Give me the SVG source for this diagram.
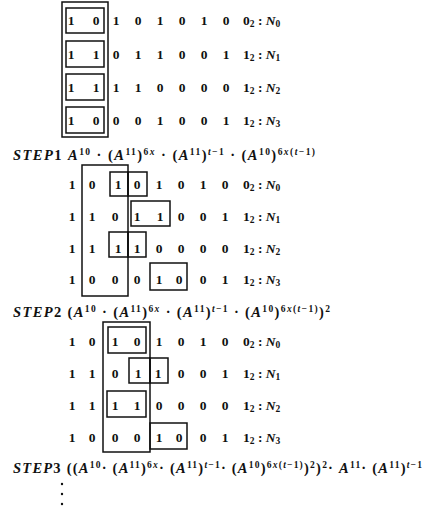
<svg xmlns="http://www.w3.org/2000/svg" width="429" height="517" viewBox="0 0 429 517">
<style>
text{font-family:"Liberation Serif","Times New Roman",serif;font-weight:bold;fill:#111;}
.d{font-size:13.5px;text-anchor:middle;}
.lb{font-size:13.5px;}
.f{font-size:14.5px;}
.i{font-style:italic;}
.s{font-size:9.5px;}
.b{fill:none;stroke:#111;stroke-width:1.5;}
</style>
<rect width="429" height="517" fill="#fff"/>

<g id="block0">
<rect class="b" x="62" y="2" width="46" height="135"/>
<rect class="b" x="66" y="8" width="38" height="25"/>
<rect class="b" x="66" y="41" width="38" height="26"/>
<rect class="b" x="66" y="74" width="38" height="26"/>
<rect class="b" x="66" y="107" width="38" height="26"/>
<g id="b0r0"><text class="d" y="24.5"><tspan x="71">1</tspan><tspan x="96">0</tspan><tspan x="116">1</tspan><tspan x="138">0</tspan><tspan x="160">1</tspan><tspan x="182">0</tspan><tspan x="204">1</tspan><tspan x="226">0</tspan></text><text class="lb" x="243" y="24.5">0<tspan class="s" dy="2">2</tspan><tspan dy="-2"> : </tspan><tspan class="i">N</tspan><tspan class="s" dy="2">0</tspan></text></g>
<g id="b0r1"><text class="d" y="58.5"><tspan x="71">1</tspan><tspan x="96">1</tspan><tspan x="116">0</tspan><tspan x="138">1</tspan><tspan x="160">1</tspan><tspan x="182">0</tspan><tspan x="204">0</tspan><tspan x="226">1</tspan></text><text class="lb" x="243" y="58.5">1<tspan class="s" dy="2">2</tspan><tspan dy="-2"> : </tspan><tspan class="i">N</tspan><tspan class="s" dy="2">1</tspan></text></g>
<g id="b0r2"><text class="d" y="91.5"><tspan x="71">1</tspan><tspan x="96">1</tspan><tspan x="116">1</tspan><tspan x="138">1</tspan><tspan x="160">0</tspan><tspan x="182">0</tspan><tspan x="204">0</tspan><tspan x="226">0</tspan></text><text class="lb" x="243" y="91.5">1<tspan class="s" dy="2">2</tspan><tspan dy="-2"> : </tspan><tspan class="i">N</tspan><tspan class="s" dy="2">2</tspan></text></g>
<g id="b0r3"><text class="d" y="124.5"><tspan x="71">1</tspan><tspan x="96">0</tspan><tspan x="116">0</tspan><tspan x="138">0</tspan><tspan x="160">1</tspan><tspan x="182">0</tspan><tspan x="204">0</tspan><tspan x="226">1</tspan></text><text class="lb" x="243" y="124.5">1<tspan class="s" dy="2">2</tspan><tspan dy="-2"> : </tspan><tspan class="i">N</tspan><tspan class="s" dy="2">3</tspan></text></g>
</g>

<g id="step1"><text class="f" x="13" y="160" textLength="302" lengthAdjust="spacing"><tspan class="i">STEP</tspan>1 <tspan class="i">A</tspan><tspan class="s" dy="-5">10</tspan><tspan dy="5"> · (</tspan><tspan class="i">A</tspan><tspan class="s" dy="-5">11</tspan><tspan dy="5">)</tspan><tspan class="s" dy="-5">6<tspan class="i">x</tspan></tspan><tspan dy="5"> · (</tspan><tspan class="i">A</tspan><tspan class="s" dy="-5">11</tspan><tspan dy="5">)</tspan><tspan class="s" dy="-5"><tspan class="i">t</tspan>−1</tspan><tspan dy="5"> · (</tspan><tspan class="i">A</tspan><tspan class="s" dy="-5">10</tspan><tspan dy="5">)</tspan><tspan class="s" dy="-5">6<tspan class="i">x</tspan>(<tspan class="i">t</tspan>−1)</tspan></text></g>

<g id="block1">
<rect class="b" x="82" y="165" width="46" height="131"/>
<rect class="b" x="110" y="172" width="18" height="24"/>
<rect class="b" x="128" y="172" width="19" height="24"/>
<rect class="b" x="131" y="201" width="39" height="25"/>
<rect class="b" x="109" y="232" width="19" height="25"/>
<rect class="b" x="128" y="232" width="18" height="25"/>
<rect class="b" x="150" y="263" width="37" height="27"/>
<g id="b1r0"><text class="d" y="188.5"><tspan x="72">1</tspan><tspan x="92">0</tspan><tspan x="118">1</tspan><tspan x="137">0</tspan><tspan x="159">1</tspan><tspan x="181">0</tspan><tspan x="203">1</tspan><tspan x="225">0</tspan></text><text class="lb" x="243" y="188.5">0<tspan class="s" dy="2">2</tspan><tspan dy="-2"> : </tspan><tspan class="i">N</tspan><tspan class="s" dy="2">0</tspan></text></g>
<g id="b1r1"><text class="d" y="220.5"><tspan x="72">1</tspan><tspan x="92">1</tspan><tspan x="115">0</tspan><tspan x="137">1</tspan><tspan x="160">1</tspan><tspan x="181">0</tspan><tspan x="203">0</tspan><tspan x="225">1</tspan></text><text class="lb" x="243" y="220.5">1<tspan class="s" dy="2">2</tspan><tspan dy="-2"> : </tspan><tspan class="i">N</tspan><tspan class="s" dy="2">1</tspan></text></g>
<g id="b1r2"><text class="d" y="252.5"><tspan x="72">1</tspan><tspan x="92">1</tspan><tspan x="118">1</tspan><tspan x="137">1</tspan><tspan x="159">0</tspan><tspan x="181">0</tspan><tspan x="203">0</tspan><tspan x="225">0</tspan></text><text class="lb" x="243" y="252.5">1<tspan class="s" dy="2">2</tspan><tspan dy="-2"> : </tspan><tspan class="i">N</tspan><tspan class="s" dy="2">2</tspan></text></g>
<g id="b1r3"><text class="d" y="283.5"><tspan x="72">1</tspan><tspan x="92">0</tspan><tspan x="115">0</tspan><tspan x="137">0</tspan><tspan x="159">1</tspan><tspan x="179">0</tspan><tspan x="203">0</tspan><tspan x="225">1</tspan></text><text class="lb" x="243" y="283.5">1<tspan class="s" dy="2">2</tspan><tspan dy="-2"> : </tspan><tspan class="i">N</tspan><tspan class="s" dy="2">3</tspan></text></g>
</g>

<g id="step2"><text class="f" x="13" y="317" textLength="317" lengthAdjust="spacing"><tspan class="i">STEP</tspan>2 (<tspan class="i">A</tspan><tspan class="s" dy="-5">10</tspan><tspan dy="5"> · (</tspan><tspan class="i">A</tspan><tspan class="s" dy="-5">11</tspan><tspan dy="5">)</tspan><tspan class="s" dy="-5">6<tspan class="i">x</tspan></tspan><tspan dy="5"> · (</tspan><tspan class="i">A</tspan><tspan class="s" dy="-5">11</tspan><tspan dy="5">)</tspan><tspan class="s" dy="-5"><tspan class="i">t</tspan>−1</tspan><tspan dy="5"> · (</tspan><tspan class="i">A</tspan><tspan class="s" dy="-5">10</tspan><tspan dy="5">)</tspan><tspan class="s" dy="-5">6<tspan class="i">x</tspan>(<tspan class="i">t</tspan>−1)</tspan><tspan dy="5">)</tspan><tspan class="s" dy="-5">2</tspan></text></g>

<g id="block2">
<rect class="b" x="103" y="322" width="47" height="130"/>
<rect class="b" x="108" y="327" width="38" height="26"/>
<rect class="b" x="129" y="358" width="21" height="25"/>
<rect class="b" x="150" y="358" width="18" height="25"/>
<rect class="b" x="107" y="391" width="39" height="26"/>
<rect class="b" x="150" y="423" width="37" height="26"/>
<g id="b2r0"><text class="d" y="345.5"><tspan x="72">1</tspan><tspan x="92">0</tspan><tspan x="115">1</tspan><tspan x="137">0</tspan><tspan x="159">1</tspan><tspan x="181">0</tspan><tspan x="203">1</tspan><tspan x="225">0</tspan></text><text class="lb" x="243" y="345.5">0<tspan class="s" dy="2">2</tspan><tspan dy="-2"> : </tspan><tspan class="i">N</tspan><tspan class="s" dy="2">0</tspan></text></g>
<g id="b2r1"><text class="d" y="377.5"><tspan x="72">1</tspan><tspan x="92">1</tspan><tspan x="115">0</tspan><tspan x="138">1</tspan><tspan x="158">1</tspan><tspan x="181">0</tspan><tspan x="203">0</tspan><tspan x="225">1</tspan></text><text class="lb" x="243" y="377.5">1<tspan class="s" dy="2">2</tspan><tspan dy="-2"> : </tspan><tspan class="i">N</tspan><tspan class="s" dy="2">1</tspan></text></g>
<g id="b2r2"><text class="d" y="409.5"><tspan x="72">1</tspan><tspan x="92">1</tspan><tspan x="115">1</tspan><tspan x="137">1</tspan><tspan x="159">0</tspan><tspan x="181">0</tspan><tspan x="203">0</tspan><tspan x="225">0</tspan></text><text class="lb" x="243" y="409.5">1<tspan class="s" dy="2">2</tspan><tspan dy="-2"> : </tspan><tspan class="i">N</tspan><tspan class="s" dy="2">2</tspan></text></g>
<g id="b2r3"><text class="d" y="441.5"><tspan x="72">1</tspan><tspan x="92">0</tspan><tspan x="115">0</tspan><tspan x="137">0</tspan><tspan x="159">1</tspan><tspan x="179">0</tspan><tspan x="203">0</tspan><tspan x="225">1</tspan></text><text class="lb" x="243" y="441.5">1<tspan class="s" dy="2">2</tspan><tspan dy="-2"> : </tspan><tspan class="i">N</tspan><tspan class="s" dy="2">3</tspan></text></g>
</g>

<g id="step3"><text class="f" x="13" y="473" textLength="409" lengthAdjust="spacing"><tspan class="i">STEP</tspan>3 ((<tspan class="i">A</tspan><tspan class="s" dy="-5">10</tspan><tspan dy="5">· (</tspan><tspan class="i">A</tspan><tspan class="s" dy="-5">11</tspan><tspan dy="5">)</tspan><tspan class="s" dy="-5">6<tspan class="i">x</tspan></tspan><tspan dy="5">· (</tspan><tspan class="i">A</tspan><tspan class="s" dy="-5">11</tspan><tspan dy="5">)</tspan><tspan class="s" dy="-5"><tspan class="i">t</tspan>−1</tspan><tspan dy="5">· (</tspan><tspan class="i">A</tspan><tspan class="s" dy="-5">10</tspan><tspan dy="5">)</tspan><tspan class="s" dy="-5">6<tspan class="i">x</tspan>(<tspan class="i">t</tspan>−1)</tspan><tspan dy="5">)</tspan><tspan class="s" dy="-5">2</tspan><tspan dy="5">)</tspan><tspan class="s" dy="-5">2</tspan><tspan dy="5">· </tspan><tspan class="i">A</tspan><tspan class="s" dy="-5">11</tspan><tspan dy="5">· (</tspan><tspan class="i">A</tspan><tspan class="s" dy="-5">11</tspan><tspan dy="5">)</tspan><tspan class="s" dy="-5"><tspan class="i">t</tspan>−1</tspan></text></g>

<g id="ellipsis" fill="#111">
<circle cx="62" cy="484" r="1.2"/>
<circle cx="62" cy="494" r="1.2"/>
<circle cx="62" cy="504" r="1.2"/>
</g>
</svg>
